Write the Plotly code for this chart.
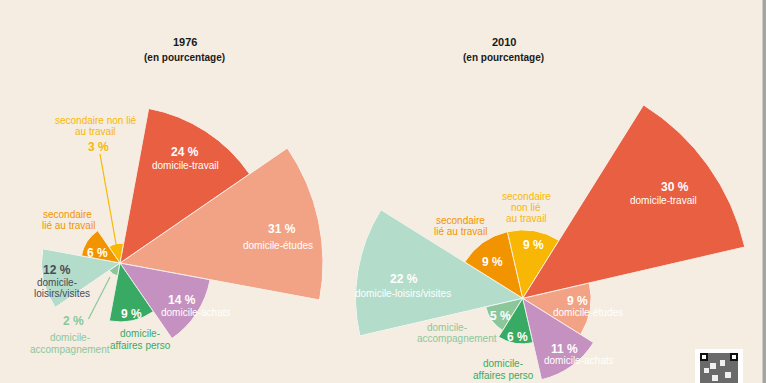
import math
import plotly.graph_objects as go

# ---- data ----
categories = ["domicile-travail", "domicile-études", "domicile-achats",
              "domicile-affaires perso", "domicile-accompagnement",
              "domicile-loisirs/visites", "secondaire lié au travail",
              "secondaire non lié au travail"]
values_1976 = [24, 31, 14, 9, 2, 12, 6, 3]
values_2010 = [30, 9, 11, 6, 5, 22, 9, 9]
titles = ["1976", "2010"]
subtitle = "(en pourcentage)"

colors = ["#E85F41", "#F2A385", "#C591C0", "#39AA63", "#8CC79B",
          "#B3DCCB", "#F29400", "#F8B704"]
BG = "#F5EDE1"
W, H = 766, 383
FONT = "Liberation Sans, Arial, sans-serif"

fig = go.Figure()
layout_polars = {}
STEP = 45.0


def sector_bbox(s0, s1):
    angs = [s0, s1] + [k * 90 for k in range(-8, 9) if s0 <= k * 90 <= s1]
    xs = [0.0] + [math.cos(math.radians(a)) for a in angs]
    ys = [0.0] + [math.sin(math.radians(a)) for a in angs]
    return min(xs), min(ys), max(xs), max(ys)


def clamp(v):
    return min(1.0, max(0.0, v))


count = [0]


def add_rose(values, cx, cy, scale, rotation):
    """One polar subplot per sector so every wedge keeps the same centre/scale."""
    for i, v in enumerate(values):
        count[0] += 1
        n = count[0]
        sub = "polar" if n == 1 else f"polar{n}"
        theta = i * STEP
        mid = rotation - theta
        s0, s1 = mid - STEP / 2, mid + STEP / 2
        rmax = v * 1.0
        R = rmax * scale
        x0, y0, x1, y1 = sector_bbox(s0, s1)
        dom_x = [clamp((cx + R * x0) / W), clamp((cx + R * x1) / W)]
        top_px, bot_px = cy - R * y1, cy - R * y0
        dom_y = [clamp((H - bot_px) / H), clamp((H - top_px) / H)]
        fig.add_trace(go.Barpolar(
            r=[v], theta=[theta], width=[STEP],
            marker=dict(color=colors[i], line=dict(color="white", width=1)),
            subplot=sub, hoverinfo="skip", showlegend=False))
        layout_polars[sub] = dict(
            domain=dict(x=dom_x, y=dom_y),
            sector=[s0, s1],
            bgcolor="rgba(0,0,0,0)",
            radialaxis=dict(range=[0, rmax], visible=False, showgrid=False),
            angularaxis=dict(visible=False, showgrid=False, rotation=rotation,
                             direction="clockwise", thetaunit="degrees"),
            bargap=0,
        )


add_rose(values_1976, 120, 263, 6.55, 57)
add_rose(values_2010, 522.7, 298.3, 7.6, 35.5)

fig.update_layout(
    width=W, height=H, margin=dict(l=0, r=0, t=0, b=0),
    paper_bgcolor=BG, plot_bgcolor=BG,
    font=dict(family=FONT),
    **layout_polars,
)

ann = []


def txt(s, x, y, color, size=10, bold=False):
    if bold:
        s = "<b>" + s + "</b>"
    ann.append(dict(text=s, x=x / W, y=1 - y / H, xref="paper", yref="paper",
                    showarrow=False, xanchor="center", yanchor="middle",
                    font=dict(color=color, size=size, family=FONT)))


# titles
TC = "#1a1a1a"
txt(titles[0], 184.5, 42.5, TC, 11, True)
txt(subtitle, 184.5, 58, TC, 10, True)
txt(titles[1], 504, 42.5, TC, 11, True)
txt(subtitle, 504, 58, TC, 10, True)

WH = "white"
NS, LS = 12, 10


def pct(v):
    return f"{v} %"


# 1976 labels
v = values_1976
txt(pct(v[0]), 185, 152, WH, NS, True)
txt(categories[0], 185, 165.5, WH, LS)
txt(pct(v[1]), 282, 229, WH, NS, True)
txt(categories[1], 278, 245, WH, LS)
txt(pct(v[2]), 182, 300, WH, NS, True)
txt(categories[2], 195, 312, WH, LS)
txt(pct(v[3]), 131, 314, WH, NS, True)
txt("domicile-", 140, 333, colors[3], LS)
txt("affaires perso", 140, 345, colors[3], LS)
txt(pct(v[4]), 73, 321, colors[4], NS, True)
txt("domicile-", 70, 337, colors[4], LS)
txt("accompagnement", 70, 349, colors[4], LS)
txt(pct(v[5]), 57, 270, "#4A4A58", NS, True)
txt("domicile-", 57, 282, "#4A4A58", LS)
txt("loisirs/visites", 62, 293, "#4A4A58", LS)
txt(pct(v[6]), 97, 253, WH, NS, True)
txt("secondaire", 67, 214, colors[6], LS)
txt("lié au travail", 68, 225.5, colors[6], LS)
txt("secondaire non lié", 96, 120, colors[7], LS)
txt("au travail", 96, 132, colors[7], LS)
txt(pct(v[7]), 98, 147, colors[7], NS, True)

# 2010 labels
v = values_2010
txt(pct(v[0]), 675, 187, WH, NS, True)
txt(categories[0], 663, 201, WH, LS)
txt(pct(v[1]), 577, 301, WH, NS, True)
txt(categories[1], 588, 312, WH, LS)
txt(pct(v[2]), 564, 349, WH, NS, True)
txt(categories[2], 578, 360, WH, LS)
txt(pct(v[3]), 517, 337, WH, NS, True)
txt("domicile-", 503, 363.5, colors[3], LS)
txt("affaires perso", 503, 375, colors[3], LS)
txt(pct(v[4]), 500, 316, WH, NS, True)
txt("domicile-", 447, 327.5, colors[4], LS)
txt("accompagnement", 457, 338.5, colors[4], LS)
txt(pct(v[5]), 404, 278.5, WH, NS, True)
txt(categories[5], 403, 293.5, WH, LS)
txt(pct(v[6]), 492, 262, WH, NS, True)
txt("secondaire", 461, 220, colors[6], LS)
txt("lié au travail", 461, 231.5, colors[6], LS)
txt(pct(v[7]), 533, 245, WH, NS, True)
txt("secondaire", 526, 196, colors[7], LS)
txt("non lié", 526, 207.5, colors[7], LS)
txt("au travail", 526, 218.5, colors[7], LS)

fig.update_layout(annotations=ann)


def rect(x0, y0, x1, y1, fill):
    return dict(type="rect", xref="paper", yref="paper",
                x0=x0 / W, x1=x1 / W, y0=1 - y1 / H, y1=1 - y0 / H,
                fillcolor=fill, line=dict(width=0), layer="above")


def line(x0, y0, x1, y1, color):
    return dict(type="line", xref="paper", yref="paper",
                x0=x0 / W, x1=x1 / W, y0=1 - y0 / H, y1=1 - y1 / H,
                line=dict(color=color, width=1.2), layer="above")


shapes = [
    line(100, 154, 116.5, 246.5, colors[7]),
    line(110, 277, 88.5, 319, colors[4]),
    rect(762.5, 0, 766, 383, "#A3A3A3"),
    rect(695, 349, 743, 383, "white"),
    rect(700, 353, 738, 383, "#6a6a6a"),
    rect(700, 353, 708, 361, "#111111"),
    rect(730, 353, 738, 361, "#111111"),
    rect(702, 355, 706, 359, "white"),
    rect(732, 355, 736, 359, "white"),
    rect(710, 363, 716, 369, "#f0f0f0"),
    rect(720, 360, 725, 366, "#f0f0f0"),
    rect(704, 368, 709, 373, "#f0f0f0"),
    rect(725, 372, 731, 378, "#f0f0f0"),
    rect(712, 375, 718, 381, "#f0f0f0"),
]
fig.update_layout(shapes=shapes)

fig.write_html("out.html",
               config={"displayModeBar": False},
               post_script="document.body.style.margin='0';"
                           "document.body.style.overflow='hidden';")
